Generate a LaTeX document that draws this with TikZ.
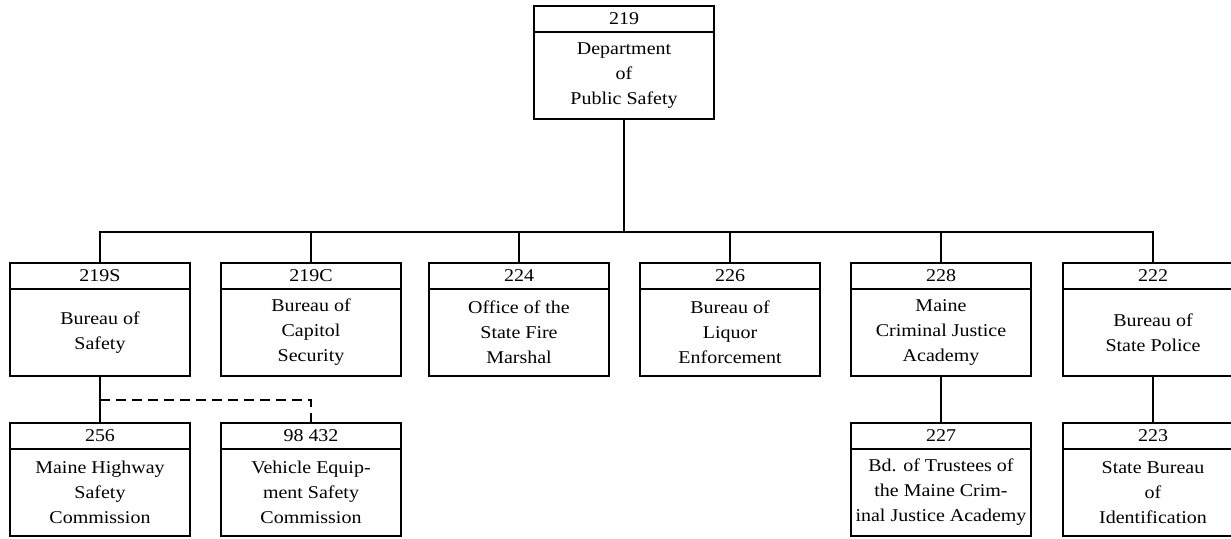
\documentclass[tikz,border=0pt]{standalone}
\usepackage{fontspec}
\setmainfont{Liberation Serif}[FakeStretch=1.11]
\usetikzlibrary{positioning}

\begin{document}
\begin{tikzpicture}[x=0.5pt,y=-0.5pt,line width=0.9pt,
  every node/.style={font=\fontsize{9}{12.5}\selectfont},
  head/.style={draw,minimum width=90pt,minimum height=13pt,inner sep=0pt,outer sep=0pt,anchor=north},
  body/.style={draw,minimum width=90pt,minimum height=43.5pt,inner sep=0pt,outer sep=0pt,align=center}]
\clip (0,0) rectangle (1231,538);
% top
\node [head] (219) at (624,6) {219};
\node [body,below=0pt of 219] (219b) {Department\\of\\Public Safety};
% second row
\node [head] (219S) at (100,263) {219S};
\node [body,below=0pt of 219S] (219Sb) {Bureau of\\Safety};
\node [head] (219C) at (311,263) {219C};
\node [body,below=0pt of 219C] (219Cb) {Bureau of\\Capitol\\Security};
\node [head] (224) at (519,263) {224};
\node [body,below=0pt of 224] (224b) {Office of the\\State Fire\\Marshal};
\node [head] (226) at (730,263) {226};
\node [body,below=0pt of 226] (226b) {Bureau of\\Liquor\\Enforcement};
\node [head] (228) at (941,263) {228};
\node [body,below=0pt of 228] (228b) {Maine\\Criminal Justice\\Academy};
\node [head] (222) at (1153,263) {222};
\node [body,below=0pt of 222] (222b) {Bureau of\\State Police};
% third row
\node [head] (256) at (100,423) {256};
\node [body,below=0pt of 256] (256b) {Maine Highway\\Safety\\Commission};
\node [head] (98432) at (311,423) {98 432};
\node [body,below=0pt of 98432] (98432b) {Vehicle Equip-\\ment Safety\\Commission};
\node [head] (227) at (941,423) {227};
\node [body,below=0pt of 227] (227b) {Bd. of Trustees of\\the Maine Crim-\\inal Justice Academy};
\node [head] (223) at (1153,423) {223};
\node [body,below=0pt of 223] (223b) {State Bureau\\of\\Identification};
% lines
\coordinate (bus) at (624,232);
\draw (219b.south) -- (bus);
\draw (219S.north) |- (bus) -| (222.north);
\draw (219C.north) -- (219C.north |- bus);
\draw (224.north) -- (224.north |- bus);
\draw (226.north) -- (226.north |- bus);
\draw (228.north) -- (228.north |- bus);
\draw (219Sb.south) -- (256.north);
\draw (228b.south) -- (227.north);
\draw (222b.south) -- (223.north);
\coordinate (split) at (100,400);
\draw [dash pattern=on 5pt off 3pt] (split) -| (98432.north);
\end{tikzpicture}
\end{document}
